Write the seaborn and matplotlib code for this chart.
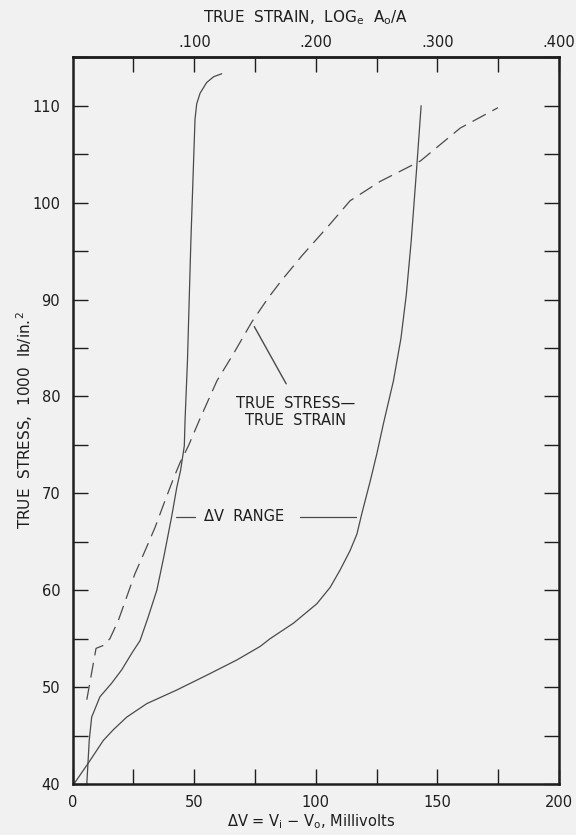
import matplotlib
matplotlib.use("Agg")
import matplotlib.pyplot as plt
from matplotlib.ticker import MultipleLocator, FixedLocator
import seaborn as sns
import pandas as pd

# ---- data ----
dv_steep = [5.8, 6.8, 7.8, 11.2, 16.0, 20.2, 24.3, 27.7, 31.0, 34.6, 37.6, 40.7, 42.8, 44.4,
            45.9, 46.2, 47.2, 48.6, 50.3, 51.0, 52.4, 55.1, 58.0, 61.3]
stress_steep = [40.0, 44.5, 46.9, 49.0, 50.4, 51.8, 53.5, 54.8, 57.2, 60.0, 63.6, 67.6, 70.6, 72.4,
                74.9, 77.5, 83.7, 96.0, 108.6, 110.2, 111.3, 112.4, 113.0, 113.3]

dv_wide = [0.5, 6.8, 12.6, 16.7, 22.2, 30.5, 42.8, 56.5, 67.5, 77.1, 81.2, 90.8, 100.4, 105.9,
           110.0, 114.1, 116.9, 118.9, 122.4, 125.1, 127.8, 131.9, 135.0, 137.2, 139.2, 141.3, 143.3]
stress_wide = [40.0, 42.3, 44.5, 45.6, 46.9, 48.3, 49.7, 51.4, 52.8, 54.2, 55.0, 56.6, 58.6, 60.3,
               62.1, 64.1, 65.8, 67.9, 71.3, 74.1, 77.2, 81.6, 86.0, 90.5, 96.0, 103.0, 110.0]

dv_strain = [5.8, 9.6, 12.6, 15.3, 18.8, 22.2, 25.6, 29.8, 33.9, 37.3, 41.4, 44.2, 47.6, 52.0,
             59.3, 66.1, 73.7, 80.5, 86.0, 94.2, 105.9, 114.1, 126.5, 143.0, 159.4, 174.9]
stress_strain = [48.7, 54.0, 54.3, 55.0, 56.9, 59.3, 61.7, 64.1, 66.5, 68.8, 71.5, 73.2, 74.9, 77.5,
                 81.6, 84.4, 87.7, 90.2, 92.0, 94.5, 97.8, 100.2, 102.2, 104.3, 107.7, 109.8]

x_ticks = [0, 50, 100, 150, 200]
y_ticks = [40, 50, 60, 70, 80, 90, 100, 110]
strain_ticks = [0.1, 0.2, 0.3, 0.4]
strain_labels = [".100", ".200", ".300", ".400"]

# ---- style ----
sns.set_style("ticks")
plt.rcParams["font.family"] = ["DejaVu Sans"]
bg = "#f1f1f1"
ink = "#1e1e1e"
curve = "#4a4a4a"

fig = plt.figure(figsize=(5.76, 8.35), dpi=100, facecolor=bg)
ax = fig.add_axes([72.7 / 576, 1 - 784 / 835, (559 - 72.7) / 576, (784 - 57.3) / 835])
ax.set_facecolor(bg)

df1 = pd.DataFrame({"dv": dv_steep, "stress": stress_steep})
df2 = pd.DataFrame({"dv": dv_wide, "stress": stress_wide})
df3 = pd.DataFrame({"dv": dv_strain, "stress": stress_strain})

sns.lineplot(data=df1, x="dv", y="stress", ax=ax, sort=False, estimator=None,
             color=curve, linewidth=0.9)
sns.lineplot(data=df2, x="dv", y="stress", ax=ax, sort=False, estimator=None,
             color=curve, linewidth=0.9)
sns.lineplot(data=df3, x="dv", y="stress", ax=ax, sort=False, estimator=None,
             color=curve, linewidth=0.9)
ax.lines[-1].set_dashes((12, 6))

ax.set_xlim(0, 200)
ax.set_ylim(40, 115)
ax.set_xlabel("")
ax.set_ylabel("")

# ticks
ax.xaxis.set_major_locator(FixedLocator(x_ticks))
ax.xaxis.set_minor_locator(MultipleLocator(25))
ax.yaxis.set_major_locator(FixedLocator(y_ticks))
ax.yaxis.set_minor_locator(MultipleLocator(5))
ax.set_xticklabels([str(v) for v in x_ticks])
ax.set_yticklabels([str(v) for v in y_ticks])
ax.tick_params(which="both", direction="in", length=11, width=1.0, color=ink,
               labelsize=10.5, labelcolor=ink)
ax.tick_params(axis="x", which="both", bottom=True, top=False, pad=8)
ax.tick_params(axis="y", which="both", left=True, right=True, pad=9)

for s in ax.spines.values():
    s.set_linewidth(1.8)
    s.set_color(ink)

# top strain axis
top = ax.secondary_xaxis("top", functions=(lambda v: v / 500.0, lambda s: s * 500.0))
top.xaxis.set_major_locator(FixedLocator(strain_ticks))
top.xaxis.set_minor_locator(FixedLocator([0.05, 0.15, 0.25, 0.35]))
top.set_xticklabels(strain_labels)
top.tick_params(which="both", direction="in", length=11, width=1.0, color=ink,
                labelsize=10.5, labelcolor=ink, pad=5)
top.spines["top"].set_linewidth(1.8)

# axis titles placed as in the reference
fig.text(306 / 576, 1 - 18 / 835,
         "TRUE  STRAIN,  LOG$_\\mathregular{e}$  A$_\\mathregular{o}$/A",
         ha="center", va="center", fontsize=11, color=ink)
fig.text(311 / 576, 1 - 822 / 835,
         "\u0394V = V$_\\mathregular{i}$ \u2212 V$_\\mathregular{o}$, Millivolts",
         ha="center", va="center", fontsize=10.5, color=ink)
fig.text(25 / 576, 1 - 420 / 835,
         "TRUE  STRESS,  1000  lb/in.$^\\mathregular{2}$",
         ha="center", va="center", rotation=90, fontsize=11, color=ink)

# annotations
ax.annotate("\u0394V  RANGE", xy=(70.5, 67.6), ha="center", va="center",
            fontsize=10.5, color=ink)
ax.plot([42.3, 50.3], [67.6, 67.6], color=curve, linewidth=0.9)
ax.plot([93.6, 116.5], [67.6, 67.6], color=curve, linewidth=0.9)

ax.annotate("TRUE  STRESS\u2014\nTRUE  STRAIN", xy=(91.5, 78.4), ha="center", va="center",
            fontsize=10.5, color=ink, linespacing=1.15)
ax.plot([74.7, 87.8], [87.2, 81.3], color=curve, linewidth=1.0)

fig.savefig("out.png", dpi=100, facecolor=bg)
